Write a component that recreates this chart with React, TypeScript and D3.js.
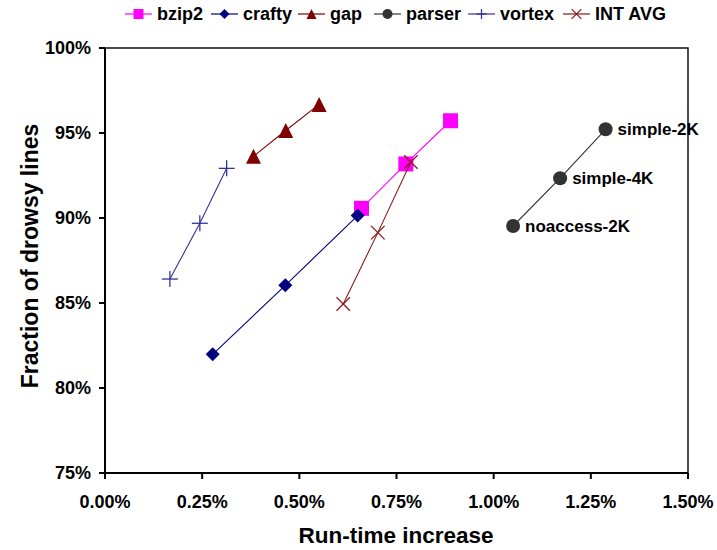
import React from "react";
import * as d3 from "d3";

// Run-time increase (%) vs. fraction of drowsy lines (%) per benchmark
const seriesNames = ["bzip2", "crafty", "gap", "parser", "vortex", "INT AVG"];
const bzip2X = [0.66, 0.774, 0.889];
const bzip2Y = [90.57, 93.18, 95.72];
const craftyX = [0.277, 0.464, 0.65];
const craftyY = [81.98, 86.04, 90.14];
const gapX = [0.382, 0.465, 0.551];
const gapY = [93.63, 95.15, 96.68];
const parserX = [1.05, 1.171, 1.288];
const parserY = [89.53, 92.34, 95.22];
const parserLabels = ["noaccess-2K", "simple-4K", "simple-2K"];
const vortexX = [0.167, 0.244, 0.313];
const vortexY = [86.41, 89.69, 92.92];
const avgX = [0.613, 0.702, 0.787];
const avgY = [84.94, 89.14, 93.29];

const xTicks = [0, 0.25, 0.5, 0.75, 1.0, 1.25, 1.5];
const yTicks = [75, 80, 85, 90, 95, 100];

type Kind = "square" | "diamond" | "triangle" | "circle" | "plus" | "cross";

const seriesStyle: { color: string; line: string; kind: Kind }[] = [
  { color: "#FF00FF", line: "#FF00FF", kind: "square" },
  { color: "#000080", line: "#000080", kind: "diamond" },
  { color: "#800000", line: "#800000", kind: "triangle" },
  { color: "#333333", line: "#333333", kind: "circle" },
  { color: "#333399", line: "#333399", kind: "plus" },
  { color: "#8B1A1A", line: "#8B1A1A", kind: "cross" },
];

const seriesData = [
  [bzip2X, bzip2Y],
  [craftyX, craftyY],
  [gapX, gapY],
  [parserX, parserY],
  [vortexX, vortexY],
  [avgX, avgY],
];

const FONT = "'Liberation Sans', Arial, sans-serif";

function Marker({ kind, color, cx, cy, s }: { kind: Kind; color: string; cx: number; cy: number; s: number }) {
  const h = s / 2;
  switch (kind) {
    case "square":
      return <rect x={cx - h} y={cy - h} width={s} height={s} fill={color} />;
    case "diamond":
      return <path d={`M${cx},${cy - h}L${cx + h},${cy}L${cx},${cy + h}L${cx - h},${cy}Z`} fill={color} />;
    case "triangle":
      return <path d={`M${cx},${cy - h}L${cx + h},${cy + h}L${cx - h},${cy + h}Z`} fill={color} />;
    case "circle":
      return <circle cx={cx} cy={cy} r={h} fill={color} />;
    case "plus":
      return (
        <g stroke={color} strokeWidth={1.3}>
          <line x1={cx - h} x2={cx + h} y1={cy} y2={cy} />
          <line x1={cx} x2={cx} y1={cy - h} y2={cy + h} />
        </g>
      );
    case "cross": {
      const d = h * 0.75;
      return (
        <g stroke={color} strokeWidth={1.3}>
          <line x1={cx - d} x2={cx + d} y1={cy - d} y2={cy + d} />
          <line x1={cx - d} x2={cx + d} y1={cy + d} y2={cy - d} />
        </g>
      );
    }
  }
}

const markerSize: Record<Kind, number> = {
  square: 15,
  diamond: 14,
  triangle: 15,
  circle: 14,
  plus: 16,
  cross: 18,
};

export default function App() {
  const width = 717;
  const height = 550;
  const left = 105;
  const right = 688;
  const top = 48;
  const bottom = 473;

  const x = d3.scaleLinear().domain([0, 1.5]).range([left, right]);
  const y = d3.scaleLinear().domain([75, 100]).range([bottom, top]);
  const line = d3
    .line<[number, number]>()
    .x((d) => x(d[0]))
    .y((d) => y(d[1]));

  const legendTextX = [157, 243, 330, 406, 500, 595];
  const legendY = 14;

  return (
    <svg
      width={width}
      height={height}
      style={{ position: "absolute", left: 0, top: 0, background: "#fff" }}
      fontFamily={FONT}
    >
      {/* legend */}
      {seriesNames.map((name, i) => {
        const st = seriesStyle[i];
        const tx = legendTextX[i];
        const x0 = tx - 32;
        const x1 = tx - 5;
        return (
          <g key={name}>
            <line x1={x0} x2={x1} y1={legendY} y2={legendY} stroke={st.line} strokeWidth={1.2} />
            <Marker kind={st.kind} color={st.color} cx={(x0 + x1) / 2} cy={legendY} s={st.kind === "cross" ? 13 : 10} />
            <text x={tx} y={legendY} dy="0.36em" fontSize={18} fontWeight="bold" fill="#000">
              {name}
            </text>
          </g>
        );
      })}

      {/* series lines and markers */}
      {seriesData.map(([xs, ys], i) => {
        const st = seriesStyle[i];
        const pts = xs.map((v, j) => [v, ys[j]] as [number, number]);
        return (
          <g key={seriesNames[i]}>
            <path d={line(pts) ?? ""} fill="none" stroke={st.line} strokeWidth={1.1} />
            {pts.map((p, j) => (
              <Marker key={j} kind={st.kind} color={st.color} cx={x(p[0])} cy={y(p[1])} s={markerSize[st.kind]} />
            ))}
          </g>
        );
      })}

      {/* point labels for parser */}
      {parserX.map((v, j) => (
        <text
          key={parserLabels[j]}
          x={x(v) + 12}
          y={y(parserY[j])}
          dy="0.36em"
          fontSize={17}
          fontWeight="bold"
          fill="#000"
        >
          {parserLabels[j]}
        </text>
      ))}

      {/* plot frame */}
      <rect x={left} y={top} width={right - left} height={bottom - top} fill="none" stroke="#000" strokeWidth={1.4} />
      <line x1={left} x2={left} y1={top} y2={bottom} stroke="#000" strokeWidth={2} />
      <line x1={left} x2={right} y1={bottom} y2={bottom} stroke="#000" strokeWidth={2} />

      {/* y axis ticks */}
      {yTicks.map((t) => (
        <g key={t}>
          <line x1={left - 6} x2={left} y1={y(t)} y2={y(t)} stroke="#000" strokeWidth={2} />
          <text x={91} y={y(t)} dy="0.36em" textAnchor="end" fontSize={18} fontWeight="bold" fill="#000">
            {d3.format(".0%")(t / 100)}
          </text>
        </g>
      ))}

      {/* x axis ticks */}
      {xTicks.map((t) => (
        <g key={t}>
          <line x1={x(t)} x2={x(t)} y1={bottom} y2={bottom + 6} stroke="#000" strokeWidth={2} />
          <text x={x(t)} y={508} textAnchor="middle" fontSize={18} fontWeight="bold" fill="#000">
            {d3.format(".2%")(t / 100)}
          </text>
        </g>
      ))}

      {/* axis titles */}
      <text x={396} y={543} textAnchor="middle" fontSize={22.5} fontWeight="bold" fill="#000">
        Run-time increase
      </text>
      <text
        transform={`translate(38, 256) rotate(-90)`}
        textAnchor="middle"
        fontSize={23}
        fontWeight="bold"
        fill="#000"
      >
        Fraction of drowsy lines
      </text>
    </svg>
  );
}
